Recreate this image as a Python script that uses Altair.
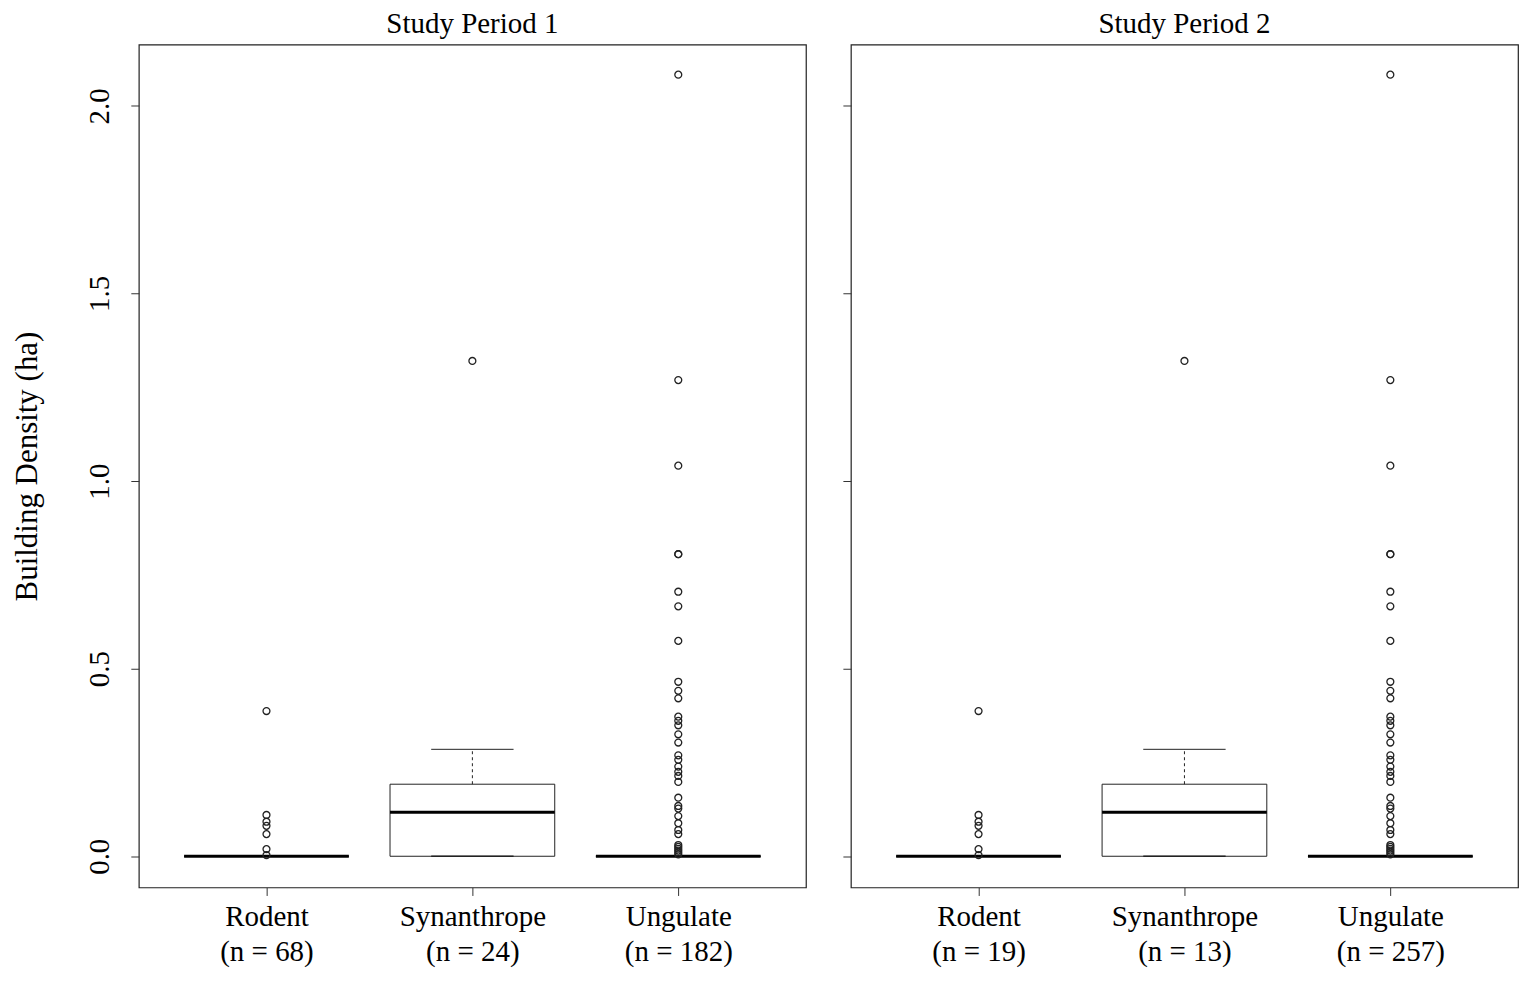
import altair as alt
import pandas as pd

categories = ["Rodent", "Synanthrope", "Ungulate"]
positions = [1, 2, 3]
panel_titles = ["Study Period 1", "Study Period 2"]
n_period1 = [68, 24, 182]
n_period2 = [19, 13, 257]

# box statistics (same in both periods)
q1 = [0.0, 0.0, 0.0]
median = [0.0, 0.117, 0.0]
q3 = [0.0, 0.192, 0.0]
whisker_low = [0.0, 0.0, 0.0]
whisker_high = [0.0, 0.285, 0.0]

rodent_outliers = [0.387, 0.110, 0.092, 0.081, 0.059, 0.019, 0.003]
synanthrope_outliers = [1.32]
ungulate_outliers = [2.083, 1.269, 1.041, 0.805, 0.805, 0.705, 0.666, 0.574,
                     0.465, 0.441, 0.421, 0.372, 0.361, 0.349, 0.325, 0.303,
                     0.269, 0.257, 0.239, 0.225, 0.214, 0.198, 0.156, 0.134,
                     0.127, 0.107, 0.088, 0.070, 0.059, 0.030, 0.025, 0.020,
                     0.015, 0.010, 0.005]

y_ticks = [0.0, 0.5, 1.0, 1.5, 2.0]
y_domain = [-0.0832, 2.1632]
x_domain = [0.38, 3.62]

FONT = "Liberation Serif"
BOX_HALF = 0.4
CAP_HALF = 0.2

outliers_by_cat = [rodent_outliers, synanthrope_outliers, ungulate_outliers]


def build_panel(title, ns, show_y_labels):
    box_df = pd.DataFrame({
        "cat": categories,
        "pos": positions,
        "lo": [p - BOX_HALF for p in positions],
        "hi": [p + BOX_HALF for p in positions],
        "clo": [p - CAP_HALF for p in positions],
        "chi": [p + CAP_HALF for p in positions],
        "q1": q1, "median": median, "q3": q3,
        "wlo": whisker_low, "whi": whisker_high,
    })
    rows = []
    for p, vals in zip(positions, outliers_by_cat):
        for v in vals:
            rows.append({"pos": p, "value": v})
    out_df = pd.DataFrame(rows)

    parts = []
    for i, (c, n) in enumerate(zip(categories, ns)):
        parts.append(f"datum.value == {positions[i]} ? ['{c}', '(n = {n})']")
    label_expr = " : ".join(parts) + " : ''"

    x_axis = alt.Axis(values=positions, labelExpr=label_expr, title=None,
                      grid=False, domain=False, tickSize=8, tickColor="#333",
                      labelFont=FONT, labelFontSize=29, labelColor="black",
                      labelPadding=7, labelLineHeight=35, labelAngle=0)
    if show_y_labels:
        y_axis = alt.Axis(values=y_ticks, format=".1f", title="Building Density (ha)",
                          grid=False, domain=False, tickSize=8, tickColor="#333",
                          labelFont=FONT, labelFontSize=29, labelColor="black",
                          labelAngle=270, labelAlign="center", labelBaseline="bottom",
                          labelPadding=16, titleFont=FONT, titleFontSize=31,
                          titleFontWeight="normal", titleColor="black", titlePadding=42)
    else:
        y_axis = alt.Axis(values=y_ticks, labels=False, title=None, grid=False,
                          domain=False, tickSize=8, tickColor="#333")

    xs = alt.Scale(domain=x_domain, nice=False, zero=False)
    ys = alt.Scale(domain=y_domain, nice=False, zero=False)

    base = alt.Chart(box_df)
    box = base.mark_rect(fill="white", stroke="#222", strokeWidth=1).encode(
        x=alt.X("lo:Q", scale=xs, axis=x_axis), x2="hi:Q",
        y=alt.Y("q1:Q", scale=ys, axis=y_axis), y2="q3:Q")
    wh_up = base.mark_rule(color="#222", strokeDash=[3, 3], strokeWidth=1).encode(
        x="pos:Q", y="q3:Q", y2="whi:Q")
    wh_dn = base.mark_rule(color="#222", strokeDash=[3, 3], strokeWidth=1).encode(
        x="pos:Q", y="wlo:Q", y2="q1:Q")
    cap_up = base.mark_rule(color="#222", strokeWidth=1).encode(
        x="clo:Q", x2="chi:Q", y="whi:Q")
    cap_dn = base.mark_rule(color="#222", strokeWidth=1.5).encode(
        x="clo:Q", x2="chi:Q", y="wlo:Q")
    med = base.mark_rule(color="black", strokeWidth=3).encode(
        x="lo:Q", x2="hi:Q", y="median:Q")
    pts = alt.Chart(out_df).mark_point(shape="circle", filled=False, size=48,
                                       color="#222", strokeWidth=1.3, opacity=1).encode(
        x="pos:Q", y="value:Q")

    return alt.layer(box, wh_up, wh_dn, cap_up, cap_dn, med, pts).properties(
        width=668, height=844,
        view=alt.ViewConfig(stroke="#222", strokeWidth=1.2),
        title=alt.TitleParams(title, font=FONT, fontSize=29, fontWeight="normal",
                              color="black", offset=6))


left = build_panel(panel_titles[0], n_period1, True)
right = build_panel(panel_titles[1], n_period2, False)

chart = alt.hconcat(left, right, spacing=34).properties(
    padding={"left": 11, "top": 8, "right": 2, "bottom": 2}
).configure_view(stroke="#222", strokeWidth=1.2).configure(background="white")

chart.save("out.html", embed_options={"renderer": "svg", "actions": False})
